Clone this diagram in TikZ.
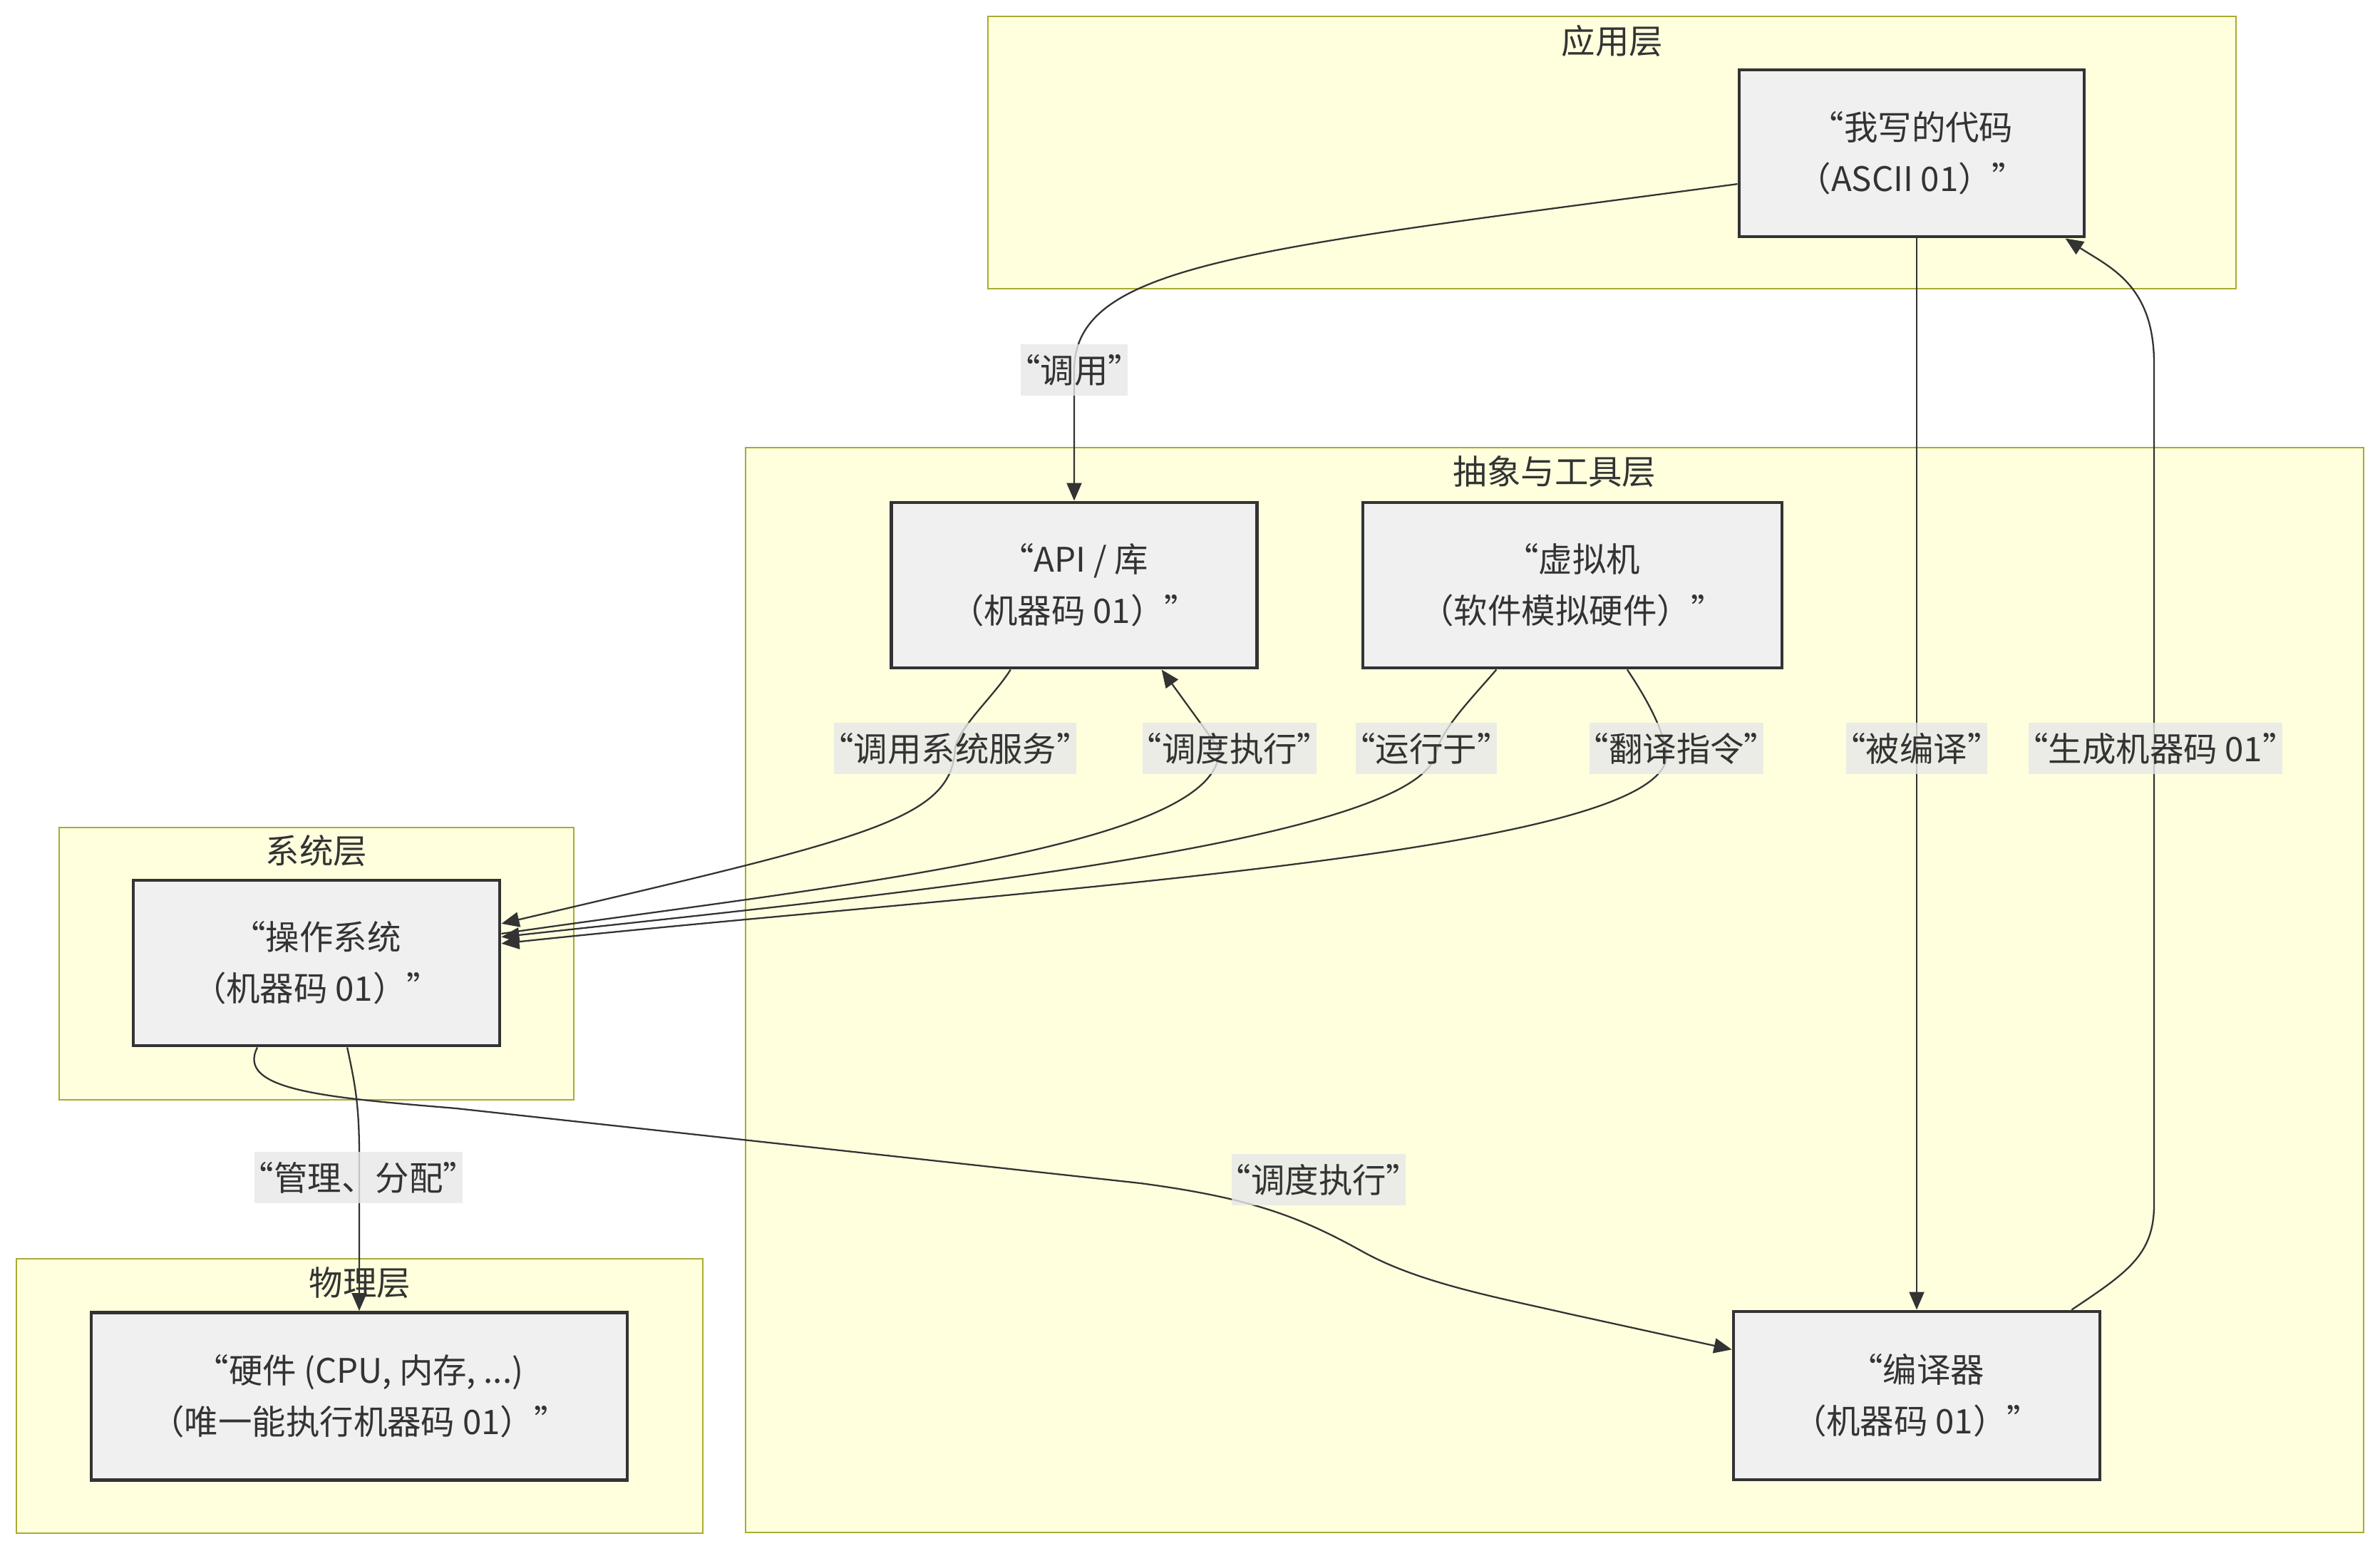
\documentclass[tikz,border=0pt]{standalone}
\usepackage{fontspec}
\setmainfont{Noto Sans CJK SC}
\usetikzlibrary{arrows.meta}
\definecolor{layerfill}{HTML}{FFFFDE}
\definecolor{layerline}{HTML}{AAAA33}
\definecolor{boxfill}{HTML}{F0F0F0}
\definecolor{ink}{HTML}{333333}
\definecolor{tagfill}{HTML}{E8E8E8}
\tikzset{
  layer/.style={draw=layerline,fill=layerfill,line width=0.8pt},
  box/.style={draw=ink,fill=boxfill,line width=1.4pt,align=center,inner sep=0pt},
  tag/.style={fill=tagfill,fill opacity=0.8,text opacity=1,inner xsep=-0.2cm,inner ysep=0pt,minimum height=0.72cm},
  flow/.style={draw=ink,line width=0.65pt,-{Triangle[length=0.25cm,width=0.21cm]}},
}
\begin{document}
\begin{tikzpicture}[font=\fontsize{13.5}{20.5}\selectfont,text=ink]
\path[fill=white,use as bounding box] (0,0) rectangle (33.39,-21.75);

\path[layer] (13.86,-0.23) rectangle (31.37,-4.05);
\node (appname) at (22.62,-0.57) {应用层};
\path[layer] (10.46,-6.28) rectangle (33.16,-21.50);
\node (toolname) at (21.81,-6.62) {抽象与工具层};
\path[layer] (0.83,-11.61) rectangle (8.05,-15.43);
\node (sysname) at (4.44,-11.94) {系统层};
\path[layer] (0.23,-17.66) rectangle (9.86,-21.51);
\node (physname) at (5.05,-18.00) {物理层};

\node[box,minimum width=4.84cm,minimum height=2.34cm] (code) at (26.82,-2.15) {“我写的代码\\（ASCII 01）”};
\node[box,minimum width=5.13cm,minimum height=2.32cm] (api) at (15.07,-8.21) {“API / 库\\（机器码 01）”};
\node[box,minimum width=5.88cm,minimum height=2.32cm] (vm) at (22.06,-8.21) {“虚拟机\\（软件模拟硬件）”};
\node[box,minimum width=5.14cm,minimum height=2.32cm] (os) at (4.44,-13.51) {“操作系统\\（机器码 01）”};
\node[box,minimum width=7.52cm,minimum height=2.35cm] (hw) at (5.04,-19.59) {“硬件 (CPU, 内存, ...)\\（唯一能执行机器码 01）”};
\node[box,minimum width=5.14cm,minimum height=2.36cm] (comp) at (26.89,-19.58) {“编译器\\（机器码 01）”};

\draw[flow] (code.190) .. controls (17.5,-3.5) and (15.07,-3.7) .. (15.07,-5.2) -- (api.north);
\draw[flow] (code.south -| comp.north) -- (comp.north);
\draw[flow] (comp.29) .. controls (29.85,-17.85) and (30.22,-17.6) .. (30.22,-16.9) -- (30.22,-5.1) .. controls (30.22,-4.0) and (29.6,-3.75) .. (code.-29);
\draw[flow] (api.233) .. controls (13.95,-9.76) and (13.45,-10.2) .. (13.4,-10.5) .. controls (13.35,-11.5) and (12.2,-11.75) .. (os.12);
\draw[flow] (os.9) .. controls (11.5,-12.45) and (17.2,-11.9) .. (17.1,-10.5) -- (api.-44);
\draw[flow] (vm.228) .. controls (20.6,-9.85) and (20.25,-10.2) .. (20.15,-10.55) .. controls (19.95,-11.85) and (12,-12.6) .. (os.8);
\draw[flow] (vm.-57) .. controls (23.1,-9.8) and (23.35,-10.25) .. (23.38,-10.6) .. controls (23.35,-12.0) and (14,-12.5) .. (os.6);
\draw[flow] (os.-70) .. controls (4.98,-15.2) and (5.04,-15.5) .. (5.04,-16.2) -- (hw.north);
\draw[flow] (os.235) .. controls (3.3,-15.3) and (4.6,-15.4) .. (6.4,-15.55) -- (16.0,-16.6) .. controls (17.5,-16.8) and (18.2,-17.05) .. (19.1,-17.55) .. controls (19.9,-18.0) and (21.0,-18.2) .. (22.0,-18.43) -- (comp.166);

\node[tag] (callapi) at (15.07,-5.19) {“调用”};
\node[tag] (callsvc) at (13.40,-10.50) {“调用系统服务”};
\node[tag] (schedapi) at (17.25,-10.50) {“调度执行”};
\node[tag] (runon) at (20.01,-10.50) {“运行于”};
\node[tag] (translate) at (23.52,-10.50) {“翻译指令”};
\node[tag] (compiled) at (26.89,-10.50) {“被编译”};
\node[tag] (genmc) at (30.24,-10.50) {“生成机器码 01”};
\node[tag] (manage) at (5.03,-16.52) {“管理、分配”};
\node[tag] (schedcomp) at (18.50,-16.55) {“调度执行”};
\end{tikzpicture}
\end{document}
